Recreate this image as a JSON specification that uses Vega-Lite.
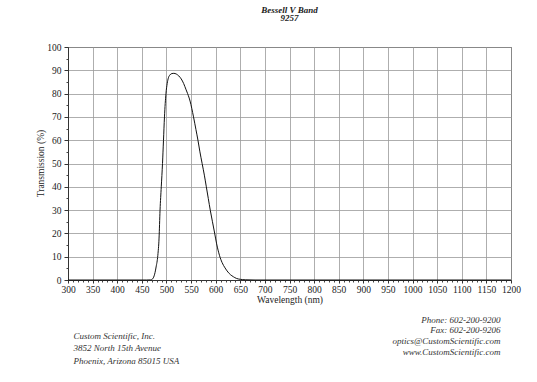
{
  "$schema": "https://vega.github.io/schema/vega-lite/v6.json",
  "width": 443,
  "height": 233,
  "autosize": {"type": "none"},
  "padding": {"left": 68, "top": 47, "right": 26, "bottom": 102},
  "background": "white",
  "config": {
    "font": "Liberation Serif",
    "view": {"stroke": "#444", "strokeWidth": 1},
    "axis": {"labelFont": "Liberation Serif", "titleFont": "Liberation Serif", "labelColor": "#222", "titleColor": "#222", "titleFontWeight": "normal"}
  },
  "title": {
    "text": ["Bessell V Band", "9257"],
    "font": "Liberation Serif",
    "fontSize": 9,
    "fontStyle": "italic",
    "fontWeight": "bold",
    "anchor": "middle",
    "offset": 19,
    "lineHeight": 8.5,
    "color": "#222"
  },
  "data": {"values": [
    {"wl": 300, "t": 0}, {"wl": 400, "t": 0}, {"wl": 460, "t": 0}, {"wl": 468, "t": 0.05},
    {"wl": 472, "t": 0.5}, {"wl": 476, "t": 2.5}, {"wl": 479, "t": 5.6}, {"wl": 482.5, "t": 10.6},
    {"wl": 485, "t": 18}, {"wl": 487, "t": 30}, {"wl": 489.5, "t": 40}, {"wl": 492, "t": 50},
    {"wl": 494, "t": 60}, {"wl": 496, "t": 70}, {"wl": 499, "t": 80}, {"wl": 501.5, "t": 84.3},
    {"wl": 504, "t": 86.8}, {"wl": 507, "t": 88}, {"wl": 511, "t": 88.6}, {"wl": 515, "t": 88.7},
    {"wl": 520, "t": 88.4}, {"wl": 525, "t": 87.6}, {"wl": 530, "t": 86.3}, {"wl": 535, "t": 84.3},
    {"wl": 540, "t": 81.6}, {"wl": 543, "t": 80}, {"wl": 548, "t": 76.8}, {"wl": 555, "t": 70},
    {"wl": 560, "t": 64.5}, {"wl": 564, "t": 60}, {"wl": 568, "t": 55}, {"wl": 572.5, "t": 50},
    {"wl": 577, "t": 45}, {"wl": 581, "t": 40}, {"wl": 585, "t": 35}, {"wl": 589, "t": 30},
    {"wl": 593.5, "t": 25}, {"wl": 597.5, "t": 20.6}, {"wl": 602, "t": 15.5}, {"wl": 607.7, "t": 10.6},
    {"wl": 613, "t": 7.5}, {"wl": 619, "t": 5.2}, {"wl": 625, "t": 3.4}, {"wl": 630, "t": 2.3},
    {"wl": 636, "t": 1.4}, {"wl": 642, "t": 0.7}, {"wl": 650, "t": 0.3}, {"wl": 660, "t": 0.1},
    {"wl": 680, "t": 0}, {"wl": 800, "t": 0}, {"wl": 1000, "t": 0}, {"wl": 1200, "t": 0}
  ]},
  "layer": [
    {
      "mark": {"type": "line", "color": "#111", "strokeWidth": 1, "interpolate": "monotone"},
      "encoding": {
        "x": {"field": "wl", "type": "quantitative",
          "scale": {"domain": [300, 1200], "nice": false, "zero": false},
          "axis": {"orient": "bottom", "values": [300,350,400,450,500,550,600,650,700,750,800,850,900,950,1000,1050,1100,1150,1200],
            "format": "d",
            "grid": true, "gridColor": "#999", "gridWidth": 0.8, "domainColor": "#333", "tickColor": "#333", "tickSize": 3,
            "labelPadding": 1, "labelFontSize": 9.5, "labelFlush": false, "labelOverlap": false,
            "title": "Wavelength (nm)", "titleFontSize": 9.5, "titlePadding": 1}},
        "y": {"field": "t", "type": "quantitative",
          "scale": {"domain": [0, 100], "nice": false},
          "axis": {"orient": "left", "values": [0,10,20,30,40,50,60,70,80,90,100],
            "grid": true, "gridColor": "#999", "gridWidth": 0.8, "domainColor": "#333", "tickColor": "#333", "tickSize": 4,
            "labelPadding": 3, "labelFontSize": 9.5, "labelFlush": false,
            "title": "Transmission (%)", "titleFontSize": 9.5, "titleX": -28, "titleY": 116, "titleAngle": -90,
            "titleAlign": "center", "titleBaseline": "middle"}}
      }
    },
    {
      "mark": {"type": "line", "strokeOpacity": 0},
      "encoding": {
        "x": {"field": "wl", "type": "quantitative",
          "axis": {"orient": "bottom", "values": [310,320,330,340,360,370,380,390,410,420,430,440,460,470,480,490,510,520,530,540,560,570,580,590,610,620,630,640,660,670,680,690,710,720,730,740,760,770,780,790,810,820,830,840,860,870,880,890,910,920,930,940,960,970,980,990,1010,1020,1030,1040,1060,1070,1080,1090,1110,1120,1130,1140,1160,1170,1180,1190],
            "grid": false, "domain": false, "labels": false, "tickSize": 2, "tickColor": "#444", "title": null}},
        "y": {"field": "t", "type": "quantitative",
          "axis": {"orient": "left", "values": [5,15,25,35,45,55,65,75,85,95],
            "grid": false, "domain": false, "labels": false, "tickSize": 2, "tickColor": "#444", "title": null}}
      }
    },
    {
      "mark": {"type": "line", "strokeOpacity": 0},
      "encoding": {
        "x": {"field": "wl", "type": "quantitative",
          "axis": {"orient": "bottom", "grid": false, "domain": false, "labels": false, "ticks": false,
            "title": ["Custom Scientific, Inc.", "3852 North 15th Avenue", "Phoenix, Arizona 85015 USA"],
            "titleX": 5, "titleY": 51, "titleAlign": "left", "titleBaseline": "top", "titleAnchor": null,
            "titleFontSize": 9, "titleFontStyle": "italic", "titleLineHeight": 12.8, "titleColor": "#333"}},
        "y": {"field": "t", "type": "quantitative", "axis": null}
      }
    },
    {
      "mark": {"type": "line", "strokeOpacity": 0},
      "encoding": {
        "x": {"field": "wl", "type": "quantitative",
          "axis": {"orient": "bottom", "grid": false, "domain": false, "labels": false, "ticks": false,
            "title": ["Phone:  602-200-9200", "Fax:  602-200-9206", "optics@CustomScientific.com", "www.CustomScientific.com"],
            "titleX": 432, "titleY": 35, "titleAlign": "right", "titleBaseline": "top", "titleAnchor": null,
            "titleFontSize": 9, "titleFontStyle": "italic", "titleLineHeight": 10.7, "titleColor": "#333"}},
        "y": {"field": "t", "type": "quantitative", "axis": null}
      }
    }
  ],
  "resolve": {"axis": {"x": "independent", "y": "independent"}}
}
